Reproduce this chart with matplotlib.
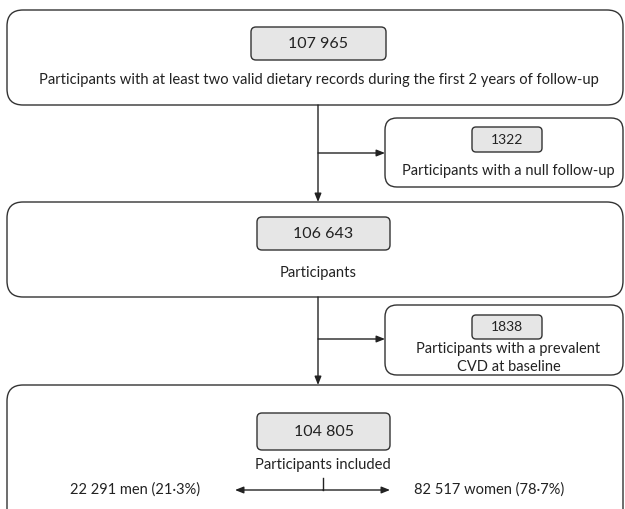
import matplotlib
matplotlib.use("Agg")
import matplotlib.pyplot as plt
from matplotlib.patches import FancyBboxPatch

plt.rcParams['font.family'] = ['Lato', 'DejaVu Sans']

# ---- data ----
stage_counts = ["107 965", "106 643", "104 805"]
stage_labels = [
    "Participants with at least two valid dietary records during the first 2 years of follow-up",
    "Participants",
    "Participants included",
]
excluded_counts = ["1322", "1838"]
excluded_labels = ["Participants with a null follow-up",
                   "Participants with a prevalent\nCVD at baseline"]
sex_labels = ["22 291 men (21·3%)", "82 517 women (78·7%)"]

EDGE = "#333333"
FILL = "#e6e6e6"
TXT = "#222222"

fig = plt.figure(figsize=(6.25, 5.09), dpi=100)
ax = fig.add_axes([0, 0, 1, 1])
ax.set_xlim(0, 625)
ax.set_ylim(509, 0)
ax.axis("off")


def rbox(x0, y0, x1, y1, r, fill="white", lw=1.0):
    p = FancyBboxPatch((x0, y0), x1 - x0, y1 - y0,
                       boxstyle=f"round,pad=0,rounding_size={r}",
                       fc=fill, ec=EDGE, lw=lw, zorder=2)
    ax.add_patch(p)


def arrow(x0, y0, x1, y1):
    ax.annotate("", xy=(x1, y1), xytext=(x0, y0),
                arrowprops=dict(arrowstyle="-|>,head_length=0.5,head_width=0.2",
                                color=TXT, lw=1.0, shrinkA=0, shrinkB=0),
                zorder=3)


# main stage boxes
main = [(10, 105), (202, 297), (385, 530)]
inner = [(251, 386, 27, 60), (257, 390, 217, 250), (257, 390, 413, 450)]
label_x = [318.5, 318, 323]
label_y = [80, 273, 465]
for i, ((y0, y1), (ix0, ix1, iy0, iy1)) in enumerate(zip(main, inner)):
    rbox(7, y0, 623, y1, 16)
    rbox(ix0, iy0, ix1, iy1, 5, fill=FILL)
    ax.text((ix0 + ix1) / 2, (iy0 + iy1) / 2, stage_counts[i], ha="center",
            va="center", fontsize=11.5, color=TXT, zorder=4)
    ax.text(label_x[i], label_y[i], stage_labels[i], ha="center",
            va="center", fontsize=10.6, color=TXT, zorder=4)

# exclusion boxes
exc = [(118, 187, 472, 542, 127, 152, [171]), (305, 375, 472, 542, 315, 339, [349, 367])]
for j, (y0, y1, ix0, ix1, iy0, iy1, ty) in enumerate(exc):
    rbox(385, y0, 623, y1, 12)
    rbox(ix0, iy0, ix1, iy1, 4, fill=FILL)
    ax.text((ix0 + ix1) / 2, (iy0 + iy1) / 2, excluded_counts[j], ha="center",
            va="center", fontsize=10, color=TXT, zorder=4)
    for k, line in enumerate(excluded_labels[j].split("\n")):
        ax.text(508.5, ty[k], line, ha="center", va="center", fontsize=10.5,
                color=TXT, zorder=4)

# connectors
arrow(318, 105, 318, 202)
arrow(318, 153, 385, 153)
arrow(318, 297, 318, 385)
arrow(318, 339, 385, 339)

# sex split
ax.plot([323, 323], [478, 490], color=TXT, lw=1.0, zorder=3)
arrow(323, 490, 235, 490)
arrow(323, 490, 390, 490)
ax.text(135, 490, sex_labels[0], ha="center", va="center", fontsize=10.5,
        color=TXT, zorder=4)
ax.text(489, 490, sex_labels[1], ha="center", va="center", fontsize=10.5,
        color=TXT, zorder=4)

fig.savefig("out.png", dpi=100, facecolor="white")
